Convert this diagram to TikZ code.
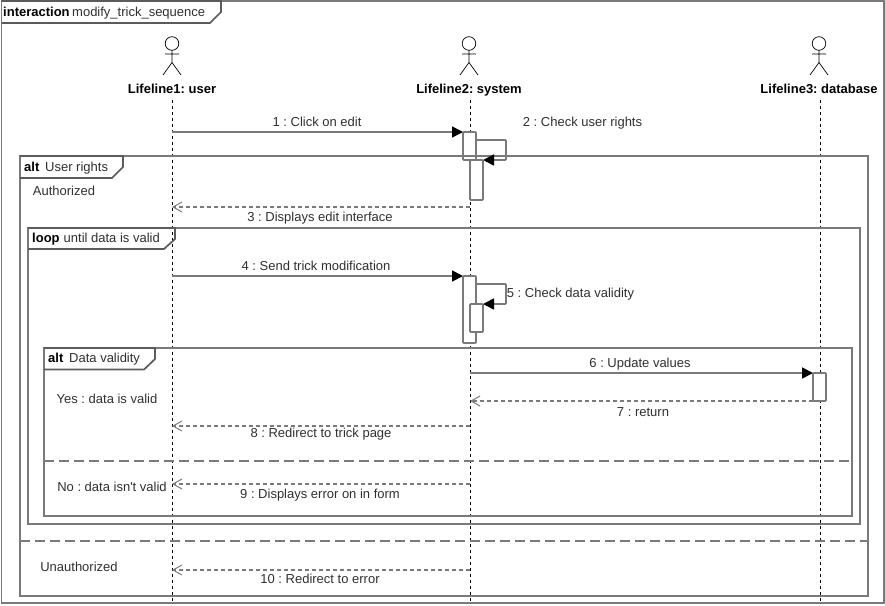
\documentclass[tikz,border=0pt]{standalone}
\usepackage{fontspec}
\setmainfont{Liberation Sans}
\usetikzlibrary{arrows.meta}
\definecolor{umlgrey}{HTML}{7A7A7A}
\definecolor{umltext}{HTML}{303030}
\tikzset{
	frameline/.style={draw=umlgrey,line width=1.7pt},
	framebox/.style={frameline,line join=miter},
	tabline/.style={framebox,draw=umlgrey!75!black},
	guardline/.style={draw=umlgrey,line width=1.7pt,dash pattern=on 10pt off 5pt},
	lifeline/.style={draw=black,line width=.9pt,dash pattern=on 3pt off 3pt},
	actorline/.style={draw=black,line width=.7pt},
	activation/.style={draw=umlgrey,fill=white,line width=1.7pt,rounded corners=.8pt,inner sep=0pt,outer sep=0pt,minimum width=13pt},
	sync/.style={draw=umlgrey,line width=1.7pt,-{Triangle[length=11pt,width=11pt,fill=black,color=black]}},
	selfcall/.style={sync,rounded corners=.8pt},
	reply/.style={draw=umlgrey,line width=1.7pt,dash pattern=on 4pt off 3pt,-{Straight Barb[length=9pt,width=10pt,color=umlgrey,line width=1pt]}},
	msg/.style={text=umltext,font=\fontsize{13}{15}\selectfont,inner sep=0pt,anchor=base},
	lifelabel/.style={text=black,font=\fontsize{13}{15}\selectfont\bfseries,inner sep=0pt,anchor=base},
	tabkey/.style={text=black,font=\fontsize{13}{15}\selectfont\bfseries,inner sep=0pt,anchor=base west},
	tabname/.style={msg,anchor=base west},
}
\begin{document}
\frenchspacing
\begin{tikzpicture}[x=1pt,y=-1pt]
	\useasboundingbox (0,0) rectangle (885,605);
	\fill[white] (0,0) rectangle (885,605);

	% lifelines with their actors
	\foreach \x/\who/\name in {172/user/Lifeline1: user,469/system/Lifeline2: system,819/database/Lifeline3: database}{
		\draw[actorline] (\x,43.5) circle (6.8);
		\draw[actorline] (\x,50.3) -- (\x,62.5) (\x-7,54) -- (\x+7,54) (\x-9,75) -- (\x,62.5) -- (\x+9,75);
		\node[lifelabel] (\who) at (\x,93) {\name};
	}
	\coordinate (userTop) at (172,100);
	\coordinate (userEnd) at (172,603);
	\coordinate (systemTop) at (470,100);
	\coordinate (systemEnd) at (470,603);
	\coordinate (databaseTop) at (820,100);
	\coordinate (databaseEnd) at (820,603);
	\draw[lifeline] (userTop) -- (userEnd);
	\draw[lifeline] (systemTop) -- (systemEnd);
	\draw[lifeline] (databaseTop) -- (databaseEnd);

	% activation bars
	\node[activation,minimum height=40pt] (barB) at (476.5,180) {};
	\node[activation,minimum height=28pt] (barA) at (469.5,146) {};
	\node[activation,minimum height=67pt] (barC) at (469.5,309.5) {};
	\node[activation,minimum height=28pt] (barD) at (476.5,318) {};
	\node[activation,minimum height=28pt] (barE) at (819.5,387) {};

	% frames
	\draw[framebox] (1.5,1) rectangle (884,603);
	\draw[framebox] (20,156) rectangle (868,596);
	\draw[framebox] (28,228) rectangle (860,524);
	\draw[framebox] (44,348) rectangle (852,516);
	\draw[tabline] (1.5,1) -- (221,1) -- (221,12) -- (210,23) -- (1.5,23);
	\draw[tabline] (20,156) -- (123,156) -- (123,167) -- (112,178) -- (20,178);
	\draw[tabline] (28,228) -- (175,228) -- (175,239) -- (164,249) -- (28,249);
	\draw[tabline] (44,348) -- (155,348) -- (155,359) -- (144,369.5) -- (44,369.5);
	\coordinate (guardLeftA) at (44,461);
	\coordinate (guardRightA) at (852,461);
	\coordinate (guardLeftB) at (20,541);
	\coordinate (guardRightB) at (868,541);
	\draw[guardline] (guardLeftA) -- (guardRightA);
	\draw[guardline] (guardLeftB) -- (guardRightB);

	% frame titles
	\node[tabkey] (titleKey) at (3,16.5) {interaction};
	\node[tabname] (titleName) at (72,16.5) {modify\_trick\_sequence};
	\node[tabkey] (altKey) at (24,171.5) {alt};
	\node[tabname] (altName) at (45,171.5) {User rights};
	\node[tabkey] (loopKey) at (32,242.5) {loop};
	\node[tabname] (loopName) at (63.5,242.5) {until data is valid};
	\node[tabkey] (innerKey) at (48,362.5) {alt};
	\node[tabname] (innerName) at (69,362.5) {Data validity};

	% guards
	\node[msg] (authorized) at (64,195) {Authorized};
	\node[msg] (dataValid) at (107,403) {Yes : data is valid};
	\node[msg] (dataInvalid) at (112,491) {No : data isn\textquotesingle t valid};
	\node[msg] (unauthorized) at (79,571) {Unauthorized};

	% messages
	\draw[sync] (userTop |- barA.north west) -- (barA.north west);
	\coordinate (rightsOut) at (barA.east |- 0,140);
	\coordinate (rightsIn) at (barB.north east);
	\draw[selfcall] (rightsOut) -- (506,140) -- (506,160) -- (rightsIn);
	\coordinate (editEnd) at (userTop |- 0,207);
	\draw[reply] (systemTop |- editEnd) -- (editEnd);
	\draw[sync] (userTop |- barC.north west) -- (barC.north west);
	\coordinate (validOut) at (barC.east |- 0,284);
	\draw[selfcall] (validOut) -- (506,284) -- (506,304) -- (barD.north east);
	\draw[sync] (systemTop |- barE.north west) -- (barE.north west);
	\draw[reply] (barE.south west) -- (systemTop |- barE.south west);
	\coordinate (pageEnd) at (userTop |- 0,426);
	\draw[reply] (systemTop |- pageEnd) -- (pageEnd);
	\coordinate (formEnd) at (userTop |- 0,484);
	\draw[reply] (systemTop |- formEnd) -- (formEnd);
	\coordinate (errorEnd) at (userTop |- 0,570);
	\draw[reply] (systemTop |- errorEnd) -- (errorEnd);

	% message labels
	\node[msg] (msgOne) at (317,126) {1 : Click on edit};
	\node[msg] (msgTwo) at (582.5,126) {2 : Check user rights};
	\node[msg] (msgThree) at (320,221) {3 : Displays edit interface};
	\node[msg] (msgFour) at (316,270) {4 : Send trick modification};
	\node[msg] (msgFive) at (570.5,297) {5 : Check data validity};
	\node[msg] (msgSix) at (640,367) {6 : Update values};
	\node[msg] (msgSeven) at (643,416) {7 : return};
	\node[msg] (msgEight) at (321,437) {8 : Redirect to trick page};
	\node[msg] (msgNine) at (320,498) {9 : Displays error on in form};
	\node[msg] (msgTen) at (320,583) {10 : Redirect to error};
\end{tikzpicture}
\end{document}
